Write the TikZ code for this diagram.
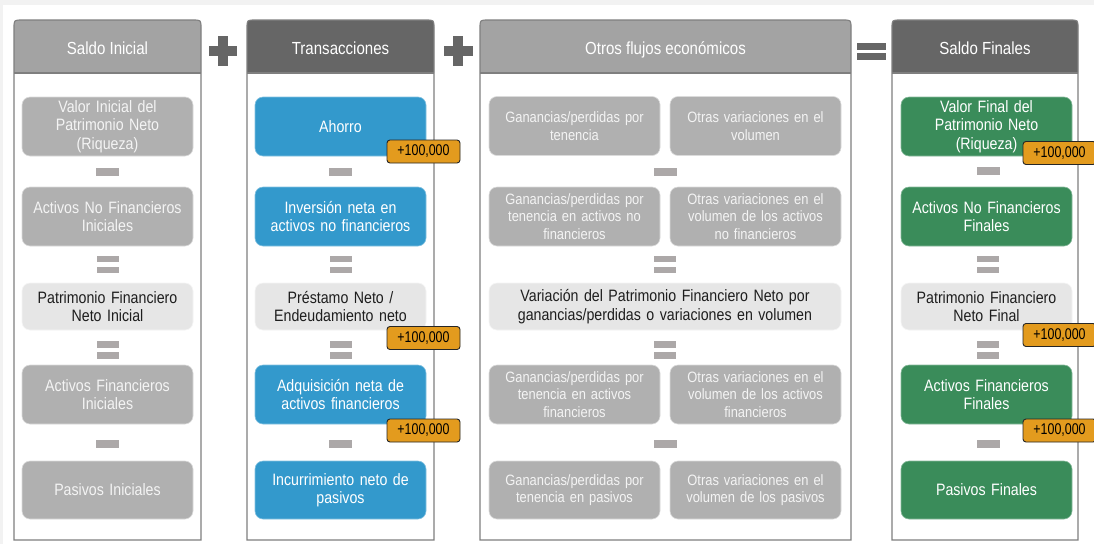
\documentclass[tikz,border=0pt]{standalone}
\usepackage{fontspec}
\setmainfont{Liberation Sans}[FakeStretch=0.86]
\newfontfamily\tagfont{Liberation Sans}[FakeStretch=0.8]

\definecolor{hdrlight}{HTML}{A3A3A3}
\definecolor{hdrdark}{HTML}{666666}
\definecolor{frameline}{HTML}{7F7F7F}
\definecolor{cellgray}{HTML}{B0B0B0}
\definecolor{celllight}{HTML}{E6E6E6}
\definecolor{cellblue}{HTML}{3399CC}
\definecolor{cellgreen}{HTML}{3A8C5A}
\definecolor{badgeor}{HTML}{E39B1E}
\definecolor{barcol}{HTML}{ACA8A8}
\definecolor{bgstrip}{HTML}{F2F2F2}
\definecolor{darktext}{HTML}{1E1E1E}
\definecolor{softwhite}{HTML}{F4F4F4}

\tikzset{
  cell/.style={rectangle, rounded corners=8pt, minimum width=171pt,
    text width=167pt, align=center, inner sep=0pt,
    draw=white!55!cellgray, line width=0.6pt,
    font=\fontsize{16.5}{18.5}\selectfont},
  graycell/.style={cell, fill=cellgray, text=softwhite},
  lightcell/.style={cell, fill=celllight, draw=white!60!celllight, text=darktext},
  bluecell/.style={cell, fill=cellblue, draw=white!40!cellblue, text=white},
  greencell/.style={cell, fill=cellgreen, draw=white!40!cellgreen, text=white},
  smallgray/.style={graycell, font=\fontsize{15}{17.5}\selectfont},
  badge/.style={rectangle, rounded corners=3pt, fill=badgeor, draw=black!85,
    line width=0.9pt, minimum width=73pt, minimum height=23pt, inner sep=0pt,
    text=black, font=\tagfont\fontsize{15.5}{16}\selectfont},
  hdrtext/.style={text=white, font=\fontsize{17.5}{20}\selectfont, inner sep=0pt, anchor=base},
  panelline/.style={draw=frameline, line width=1.1pt},
}

% column panel: left x, right x, header colour, node name, title
\newcommand\colpanel[5]{%
  \pgfmathsetmacro\panelL{#1+8}\pgfmathsetmacro\panelR{#2-8}%
  \fill[#3] (#1,73) -- (#1,28) .. controls (#1,20) .. (\panelL,20) -- (\panelR,20)
     .. controls (#2,20) .. (#2,28) -- (#2,73) -- cycle;
  \draw[panelline] (#1,540) -- (#1,28) .. controls (#1,20) .. (\panelL,20) -- (\panelR,20)
     .. controls (#2,20) .. (#2,28) -- (#2,540) -- cycle;
  \draw[panelline] (#1,73) -- (#2,73);
  \node[hdrtext] (#4) at ({(#1+#2)/2},54.5) {#5};
}
% small operator bars between the cells
\newcommand\minussign[2]{%
  \fill[barcol] ({#1-11.5},{#2-3.7}) rectangle ({#1+11.5},{#2+3.7});}
\newcommand\equalsign[2]{%
  \fill[barcol] ({#1-11},{#2-8.8}) rectangle ({#1+11},{#2-2.2});
  \fill[barcol] ({#1-11},{#2+2.2}) rectangle ({#1+11},{#2+8.8});}

\begin{document}
\begin{tikzpicture}[x=1pt,y=-1pt]
\useasboundingbox (0,0) rectangle (1094,544);
\clip (0,0) rectangle (1094,544);
\fill[white] (0,0) rectangle (1094,544);
\fill[bgstrip] (0,0) rectangle (1094,5);
\fill[bgstrip] (0,0) rectangle (3,544);

% panels
\colpanel{14}{201}{hdrlight}{h1}{Saldo Inicial}
\colpanel{247}{434}{hdrdark}{h2}{Transacciones}
\colpanel{480}{851}{hdrlight}{h3}{Otros flujos económicos}
\colpanel{892}{1078}{hdrdark}{h4}{Saldo Finales}

% operators between the panels
\fill[hdrdark] (209,45.5) rectangle (237,55.5);
\fill[hdrdark] (218,36) rectangle (228,65.5);
\fill[hdrdark] (444,45.5) rectangle (472.5,55.5);
\fill[hdrdark] (453.3,36) rectangle (463.3,65.5);
\fill[hdrdark] (857,43) rectangle (886,50);
\fill[hdrdark] (857,53) rectangle (886,60);

% Saldo Inicial
\node[graycell, minimum height=59pt] (a1) at (107.5,126.5) {Valor Inicial del\\Patrimonio Neto\\(Riqueza)};
\node[graycell, minimum height=59pt] (a2) at (107.5,216.5) {Activos No Financieros\\Iniciales};
\node[lightcell, minimum height=47pt] (a3) at (107.5,306.5) {Patrimonio Financiero\\Neto Inicial};
\node[graycell, minimum height=59pt] (a4) at (107.5,394.5) {Activos Financieros\\Iniciales};
\node[graycell, minimum height=58pt] (a5) at (107.5,490) {Pasivos Iniciales};
\minussign{107.5}{172}
\equalsign{107.5}{264.5}
\equalsign{107.5}{350}
\minussign{107.5}{444}

% Transacciones
\node[bluecell, minimum height=59pt] (b1) at (340.5,126.5) {Ahorro};
\node[bluecell, minimum height=59pt] (b2) at (340.5,216.5) {Inversión neta en\\activos no financieros};
\node[lightcell, minimum height=47pt] (b3) at (340.5,306.5) {Préstamo Neto /\\Endeudamiento neto};
\node[bluecell, minimum height=59pt] (b4) at (340.5,394.5) {Adquisición neta de\\activos financieros};
\node[bluecell, minimum height=58pt] (b5) at (340.5,490) {Incurrimiento neto de\\pasivos};
\minussign{340.5}{172}
\equalsign{340.5}{264.5}
\equalsign{340.5}{350}
\minussign{340.5}{444}

% Otros flujos economicos
\node[smallgray, minimum height=59pt] (c1l) at (574.5,126) {Ganancias/perdidas por\\tenencia};
\node[smallgray, minimum height=59pt] (c1r) at (755.5,126) {Otras variaciones en el\\volumen};
\node[smallgray, minimum height=59pt] (c2l) at (574.5,216.5) {Ganancias/perdidas por\\tenencia en activos no\\financieros};
\node[smallgray, minimum height=59pt] (c2r) at (755.5,216.5) {Otras variaciones en el\\volumen de los activos\\no financieros};
\node[lightcell, minimum height=47pt, minimum width=352pt, text width=345pt] (c3) at (665,306.5)
  {Variación del Patrimonio Financiero Neto por\\ganancias/perdidas o variaciones en volumen};
\node[smallgray, minimum height=59pt] (c4l) at (574.5,394.5) {Ganancias/perdidas por\\tenencia en activos\\financieros};
\node[smallgray, minimum height=59pt] (c4r) at (755.5,394.5) {Otras variaciones en el\\volumen de los activos\\financieros};
\node[smallgray, minimum height=58pt] (c5l) at (574.5,490) {Ganancias/perdidas por\\tenencia en pasivos};
\node[smallgray, minimum height=58pt] (c5r) at (755.5,490) {Otras variaciones en el\\volumen de los pasivos};
\minussign{665}{172}
\equalsign{665}{264.5}
\equalsign{665}{350}
\minussign{665}{444}

% Saldo Finales
\node[greencell, minimum height=59pt] (d1) at (986.5,126.5) {Valor Final del\\Patrimonio Neto\\(Riqueza)};
\node[greencell, minimum height=59pt] (d2) at (986.5,216.5) {Activos No Financieros\\Finales};
\node[lightcell, minimum height=47pt] (d3) at (986.5,306.5) {Patrimonio Financiero\\Neto Final};
\node[greencell, minimum height=59pt] (d4) at (986.5,394.5) {Activos Financieros\\Finales};
\node[greencell, minimum height=58pt] (d5) at (986.5,490) {Pasivos Finales};
\minussign{988}{171}
\equalsign{988}{264.5}
\equalsign{988}{350}
\minussign{988}{444}

% amount tags
\node[badge] (t1) at (423.5,151.5) {+100,000};
\node[badge] (t2) at (423.5,338) {+100,000};
\node[badge] (t3) at (423.5,430.5) {+100,000};
\node[badge] (t4) at (1059.5,153) {+100,000};
\node[badge] (t5) at (1059.5,335) {+100,000};
\node[badge] (t6) at (1059.5,430.5) {+100,000};
\end{tikzpicture}
\end{document}
